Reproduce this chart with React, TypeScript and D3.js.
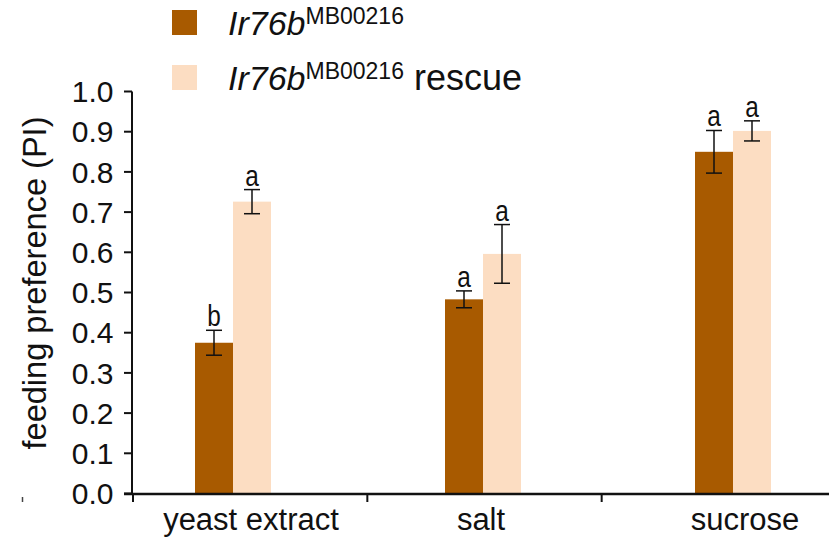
import React from 'react';
import * as d3 from 'd3';

// chart data
const categories = ['yeast extract', 'salt', 'sucrose'];
const seriesNames = ['mutant', 'rescue'];
const mutantMeans = [0.375, 0.483, 0.85];
const mutantErrors = [0.031, 0.021, 0.053];
const rescueMeans = [0.726, 0.596, 0.902];
const rescueErrors = [0.03, 0.073, 0.025];
const mutantLetters = ['b', 'a', 'a'];
const rescueLetters = ['a', 'a', 'a'];
const yTicks = [0, 0.1, 0.2, 0.3, 0.4, 0.5, 0.6, 0.7, 0.8, 0.9, 1.0];

const colors = ['#A85A00', '#FCDDC2'];
const labelShift = [18, -2, 12];
const font = 'Arial, "Liberation Sans", Helvetica, sans-serif';

export default () => {
    const width = 829;
    const height = 546;
    const axisX = 132;
    const axisY = 494;

    const y = d3.scaleLinear()
        .domain([0, 1])
        .range([493.5, 91.5]);

    const x0 = d3.scaleBand()
        .domain(categories)
        .range([108, 858])
        .paddingInner(0.696)
        .paddingOuter(0.348);

    const x1 = d3.scaleBand()
        .domain(seriesNames)
        .range([0, x0.bandwidth()]);

    // category tick marks sit between groups on their own spacing
    const xTick = d3.scaleLinear().domain([0, 3]).range([133, 836]);

    const series = [
        { name: 'mutant', means: mutantMeans, errs: mutantErrors, letters: mutantLetters, color: colors[0] },
        { name: 'rescue', means: rescueMeans, errs: rescueErrors, letters: rescueLetters, color: colors[1] }
    ];

    return (<div>
        <svg width={width} height={height} style={{ position: 'absolute', left: 0, top: 0 }} fontFamily={font}>
            <rect width={width} height={height} fill="#fff" />

            {series.map((s) => (
                <g key={s.name}>
                    {categories.map((c, i) => {
                        const bx = x0(c)! + x1(s.name)!;
                        const cx = bx + x1.bandwidth() / 2;
                        const top = y(s.means[i] + s.errs[i]);
                        const bot = y(s.means[i] - s.errs[i]);
                        return (<g key={c}>
                            <rect x={bx} y={y(s.means[i])} width={x1.bandwidth()} height={y(0) - y(s.means[i])} fill={s.color} />
                            <line x1={cx} x2={cx} y1={top} y2={bot} stroke="#111" strokeWidth={1.5} />
                            <line x1={cx - 8} x2={cx + 8} y1={top} y2={top} stroke="#111" strokeWidth={1.5} />
                            <line x1={cx - 8} x2={cx + 8} y1={bot} y2={bot} stroke="#111" strokeWidth={1.5} />
                            <text transform={`translate(${cx},${top - 4}) scale(0.84,1)`} textAnchor="middle" fontSize={29} fill="#111">{s.letters[i]}</text>
                        </g>);
                    })}
                </g>
            ))}

            {/* y axis */}
            <line x1={axisX} x2={axisX} y1={y(1)} y2={axisY} stroke="#111" strokeWidth={2} />
            {yTicks.map((t) => (
                <g key={t}>
                    <line x1={axisX - 8} x2={axisX} y1={y(t)} y2={y(t)} stroke="#111" strokeWidth={2} />
                    <text x={113.5} y={y(t) + 10.7} textAnchor="end" fontSize={30} fill="#111">{t.toFixed(1)}</text>
                </g>
            ))}
            <text transform={`translate(46,283) rotate(-90)`} textAnchor="middle" fontSize={34}
                textLength={333} lengthAdjust="spacingAndGlyphs" fill="#111">feeding preference (PI)</text>

            {/* x axis */}
            <line x1={124} x2={width} y1={axisY} y2={axisY} stroke="#111" strokeWidth={2.5} />
            {[0, 1, 2].map((i) => (
                <line key={i} x1={xTick(i)} x2={xTick(i)} y1={axisY} y2={axisY + 8} stroke="#111" strokeWidth={2} />
            ))}
            {categories.map((c, i) => (
                <text key={c} x={x0(c)! + x0.bandwidth() / 2 + labelShift[i]} y={530} textAnchor="middle" fontSize={31} fill="#111">{c}</text>
            ))}
            <line x1={22.5} x2={22.5} y1={497} y2={502} stroke="#444" strokeWidth={1.5} />

            {/* legend */}
            {series.map((s, i) => (
                <g key={s.name} transform={`translate(172,${10 + i * 55})`}>
                    <rect width={25} height={25} fill={s.color} />
                    <text x={56} y={24.5} fontSize={34} fill="#111">
                        <tspan fontStyle="italic">Ir76b</tspan>
                        <tspan fontSize={23} dy={-11}>MB00216</tspan>
                        {i === 1 ? <tspan fontSize={36} dy={11}> rescue</tspan> : null}
                    </text>
                </g>
            ))}
        </svg>
    </div>);
};
